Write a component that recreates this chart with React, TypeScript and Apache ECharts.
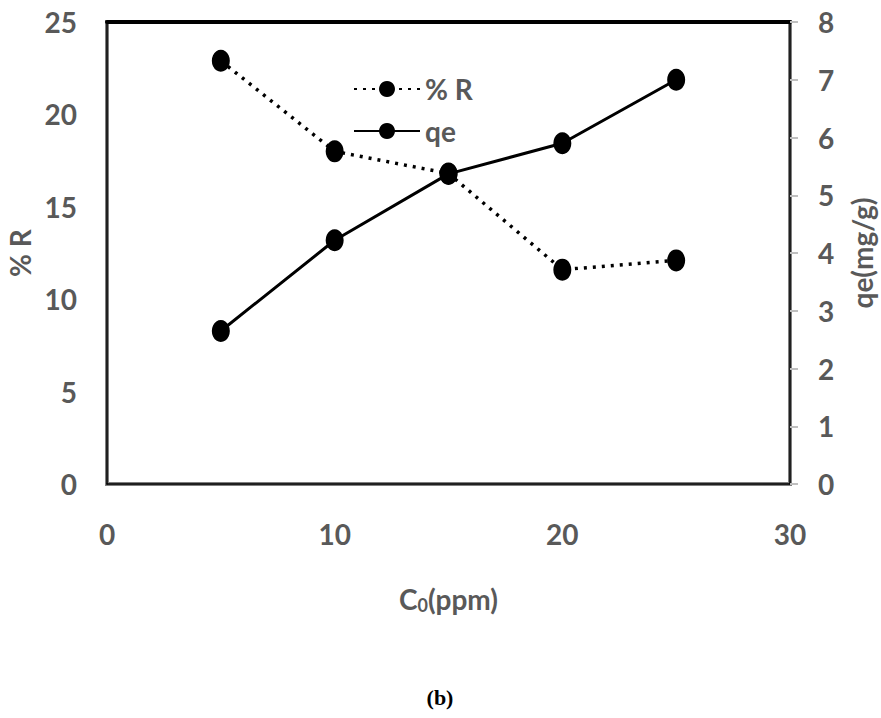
import React, { useEffect, useRef } from "react";
import * as echarts from "echarts";

const concentrations = [5, 10, 15, 20, 25];
const removalPercent = [22.9, 18.0, 16.8, 11.6, 12.1];
const qeValues = [2.65, 4.22, 5.37, 5.9, 7.0];

const FONT = "Lato, 'Open Sans', sans-serif";
const GRAY = "#595959";

export default function App() {
  const ref = useRef<HTMLDivElement>(null);
  useEffect(() => {
    if (!ref.current) return;
    const chart = echarts.init(ref.current, null, { renderer: "svg" });
    const pr = concentrations.map((c, i) => [c, removalPercent[i]]);
    const qe = concentrations.map((c, i) => [c, qeValues[i]]);
    const txt = { fontSize: 28, color: GRAY, fontFamily: FONT, fontWeight: "bold" };
    chart.setOption({
      animation: false,
      backgroundColor: "#fff",
      textStyle: { fontFamily: FONT },
      grid: {
        left: 107,
        top: 22,
        width: 683,
        height: 462,
        containLabel: false,
        outerBoundsMode: "none",
        show: true,
        borderColor: "#7f7f7f",
        borderWidth: 4,
      },
      legend: {
        orient: "vertical",
        left: 348,
        top: 70,
        itemWidth: 66,
        itemHeight: 20,
        itemGap: 14,
        textStyle: txt,
        data: ["% R", "qe"],
      },
      xAxis: [
        {
          type: "value",
          min: 0,
          max: 30,
          interval: 10,
          position: "bottom",
          name: "{a|C}{s|0}{a|(ppm)}",
          nameLocation: "middle",
          nameGap: 100,
          nameTextStyle: {
            rich: {
              a: txt,
              s: { fontSize: 18, color: GRAY, fontFamily: FONT, fontWeight: "bold", verticalAlign: "bottom", padding: [12, 0, 0, 0] },
            },
          },
          axisLine: { show: true, onZero: false, lineStyle: { color: "#000", width: 1.5 } },
          axisTick: { show: false },
          splitLine: { show: false },
          axisLabel: { ...txt, margin: 36 },
        },
        {
          type: "value",
          min: 0,
          max: 30,
          position: "top",
          axisLine: { show: true, onZero: false, lineStyle: { color: "#000", width: 4 } },
          axisTick: { show: false },
          axisLabel: { show: false },
          splitLine: { show: false },
        },
      ],
      yAxis: [
        {
          type: "value",
          min: 0,
          max: 25,
          interval: 5,
          position: "left",
          name: "% R",
          nameLocation: "middle",
          nameGap: 72,
          nameTextStyle: txt,
          axisLine: { show: true, onZero: false, lineStyle: { color: "#000", width: 1.5 } },
          axisTick: { show: false },
          splitLine: { show: false },
          axisLabel: { ...txt, margin: 30 },
        },
        {
          type: "value",
          min: 0,
          max: 8,
          interval: 1,
          position: "right",
          name: "qe(mg/g)",
          nameLocation: "middle",
          nameGap: 58,
          nameTextStyle: txt,
          axisLine: { show: true, onZero: false, lineStyle: { color: "#000", width: 1.5 } },
          axisTick: { show: true, length: 8, lineStyle: { color: "#bfbfbf", width: 2 } },
          splitLine: { show: false },
          axisLabel: { ...txt, margin: 28 },
        },
      ],
      series: [
        {
          name: "% R",
          type: "line",
          xAxisIndex: 0,
          yAxisIndex: 0,
          data: pr,
          symbol: "circle",
          symbolSize: [18, 22],
          itemStyle: { color: "#000" },
          lineStyle: { color: "#000", width: 3.5, type: [3, 6] },
        },
        {
          name: "qe",
          type: "line",
          xAxisIndex: 0,
          yAxisIndex: 1,
          data: qe,
          symbol: "circle",
          symbolSize: [18, 22],
          itemStyle: { color: "#000" },
          lineStyle: { color: "#000", width: 3 },
        },
      ],
      graphic: [
        {
          type: "text",
          x: 440,
          y: 686,
          style: { text: "(b)", align: "center", font: "bold 22px 'Liberation Serif', 'Times New Roman', serif", fill: "#000" },
        },
      ],
    });
    return () => chart.dispose();
  }, []);
  return <div ref={ref} style={{ position: "fixed", left: 0, top: 0, width: 881, height: 718 }} />;
}
